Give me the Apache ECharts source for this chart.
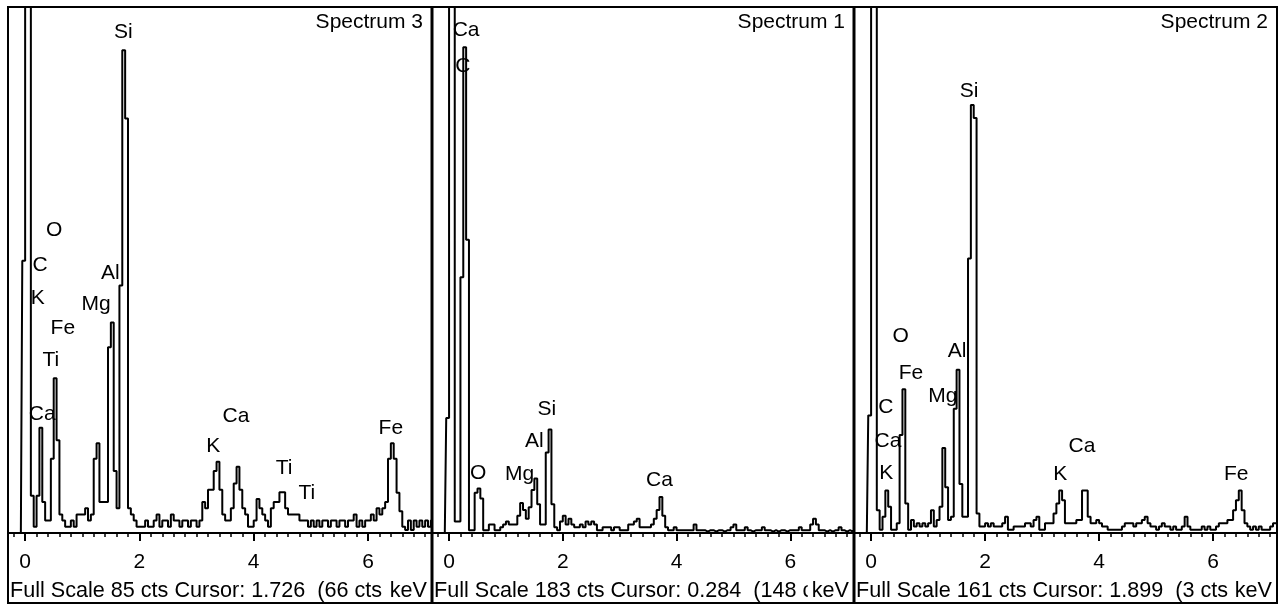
<!DOCTYPE html>
<html><head><meta charset="utf-8">
<script src="https://cdn.jsdelivr.net/npm/echarts@6/dist/echarts.min.js"></script>
<style>html,body{margin:0;padding:0;background:#fff}#chart{width:1288px;height:606px}</style>
</head><body><div id="chart"></div>
<script>
// ---- data ----
const binStartKeV = -0.30;   // left edge of first channel bin
const binWidthKeV = 0.05;    // channel bin width
const xMinKeV = -0.30, xMaxKeV = 7.12;

const panelTitles = ['Spectrum 3', 'Spectrum 1', 'Spectrum 2'];
const fullScaleCts = [85, 183, 161];
const cursorKeV = ['1.726', '0.284', '1.899'];
const cursorCts = ['(66 cts', '(148 cts', '(3 cts'];

// counts per 0.05 keV bin, from -0.30 keV
const spectrum3Counts = [
  0, 0, 0, 0, 0, 44,
  200, 200, 6, 1, 6, 17, 5, 2, 2, 12, 25, 15, 3, 2, 1, 1, 2, 1, 3, 3,
  3, 4, 2, 3, 12, 14.5, 5, 5, 5, 30, 34, 10, 4, 40, 78, 67, 4, 3, 2, 1,
  1, 1, 2, 1, 1, 2, 3, 1, 2, 2, 1, 3, 2, 2, 1, 2, 2, 1, 2, 2,
  1, 2, 5, 4, 7, 7, 10, 11.5, 7, 3, 2, 2, 4, 8, 10.7, 7, 4, 3, 1, 1,
  2, 5.5, 4, 3, 2, 1, 4, 5, 5, 6.6, 6.6, 4, 3, 3, 3, 3, 2, 2, 2, 1,
  2, 1, 2, 1, 2, 2, 1, 2, 2, 1, 2, 2, 1, 2, 2, 3, 1, 2, 1, 2,
  2, 3, 2, 4, 3, 4, 5, 12, 14.5, 12, 6.5, 3.5, 1, 0.5, 2, 0.5, 2, 1, 2, 1,
  2, 1, 2
];
const spectrum1Counts = [
  0, 0, 0, 0, 0, 40,
  400, 400, 4, 4, 89, 169, 102, 1, 1, 14, 15.5, 12, 1, 1, 3, 3, 1, 1, 2, 3,
  4, 3, 3, 3, 6, 10.4, 8, 5, 9, 15, 19, 10, 3, 3, 28, 36, 10, 2, 1, 4,
  6, 3, 5, 3, 2, 2, 3, 2, 4, 3, 4, 3, 1, 1, 2, 2, 2, 1, 2, 2,
  1, 1, 1, 3, 3, 4, 5, 2, 2, 2, 2, 3, 5, 8, 12.5, 6, 2, 1, 1, 2,
  1, 1, 1, 1, 1, 1, 3, 1, 1, 1, 0.5, 1, 1, 0.5, 1, 1, 0.5, 1, 1, 2,
  3, 1, 1, 1, 2, 1, 0.5, 1, 1, 1, 2, 1, 1, 0.5, 1, 0.5, 1, 1, 0.5, 1,
  1, 1, 1, 2, 1, 1, 1, 3, 5, 3, 1, 1, 0.5, 1, 0.5, 1, 1, 2, 1, 0.5,
  1, 0.5, 1
];
const spectrum2Counts = [
  0, 0, 0, 0, 0, 36,
  300, 300, 7, 1, 5, 13, 8, 1, 1, 3, 30, 44, 9, 1, 4, 2, 3, 2, 3, 2,
  3, 7, 2, 4, 8, 26, 14, 4, 5, 38, 50, 15, 5, 5, 84, 131, 127, 6, 2, 2,
  3, 2, 3, 2, 2, 2, 3, 5, 1, 1, 2, 2, 2, 2, 3, 3, 2, 4, 5, 1,
  1, 3, 3, 3, 6, 9, 13, 10, 3, 3, 3, 3, 4, 4, 13, 13, 5, 3, 3, 4,
  3, 2, 2, 1, 1, 1, 1, 1, 2, 3, 3, 3, 2, 3, 3, 4, 5, 3, 2, 2,
  1, 2, 3, 2, 2, 1, 2, 1, 1, 2, 5, 2, 1, 1, 1, 1, 2, 1, 2, 1,
  1, 2, 3, 3, 3, 4, 4, 7, 10, 13, 7, 3, 2, 1, 2, 1, 2, 1, 1, 1,
  2, 3, 3
];

// element labels: [element, keV, cts]
const spectrum3Labels = [
  ['Si', 1.72, 81], ['O', 0.51, 49], ['C', 0.26, 43.3], ['K', 0.22, 38],
  ['Al', 1.49, 42], ['Mg', 1.24, 37], ['Fe', 0.66, 33.1], ['Ti', 0.45, 27.9],
  ['Ca', 0.30, 19.2], ['Ca', 3.69, 18.9], ['K', 3.29, 14.1], ['Ti', 4.53, 10.5],
  ['Ti', 4.93, 6.5], ['Fe', 6.40, 17.0]
];
const spectrum1Labels = [
  ['Ca', 0.30, 175], ['C', 0.24, 162.5], ['O', 0.51, 20.8], ['Mg', 1.24, 20.5],
  ['Al', 1.50, 31.8], ['Si', 1.72, 43.1], ['Ca', 3.70, 18.2]
];
const spectrum2Labels = [
  ['Si', 1.72, 135.1], ['O', 0.52, 60.1], ['Al', 1.51, 55.5], ['Fe', 0.70, 48.9],
  ['Mg', 1.26, 41.8], ['C', 0.26, 38.4], ['Ca', 0.295, 28.2], ['K', 0.267, 18.3],
  ['Ca', 3.70, 26.7], ['K', 3.32, 18.1], ['Fe', 6.405, 18.1]
];

const panelCounts = [spectrum3Counts, spectrum1Counts, spectrum2Counts];
const panelLabels = [spectrum3Labels, spectrum1Labels, spectrum2Labels];

// ---- layout ----
const FONT = '"Liberation Sans", Arial, sans-serif';
const FS = 21;
const panelEdges = [8, 432, 854, 1277];
const plotTop = 7, plotBottom = 533, frameBottom = 603;

const grids = [], xAxes = [], yAxes = [], series = [], graphics = [];

for (let i = 0; i < 3; i++) {
  const L = panelEdges[i], R = panelEdges[i + 1];
  grids.push({ left: L, top: plotTop, width: R - L, height: plotBottom - plotTop, containLabel: false, outerBoundsMode: 'none' });
  xAxes.push({
    gridIndex: i, type: 'value', min: xMinKeV, max: xMaxKeV, splitNumber: 4,
    axisLine: { show: true, onZero: false, lineStyle: { color: '#000', width: 2 } },
    axisTick: { show: true, length: 8, lineStyle: { color: '#000', width: 2 } },
    minorTick: { show: true, splitNumber: 10, length: 4, lineStyle: { color: '#000', width: 1.5 } },
    axisLabel: { color: '#000', fontSize: FS, fontFamily: FONT, margin: 19, showMinLabel: false, showMaxLabel: false },
    splitLine: { show: false }, minorSplitLine: { show: false }
  });
  yAxes.push({ gridIndex: i, type: 'value', min: 0, max: fullScaleCts[i], show: false, splitLine: { show: false } });

  series.push({
    type: 'scatter', xAxisIndex: i, yAxisIndex: i, silent: true, z: 1,
    symbolSize: 1, itemStyle: { color: 'rgba(0,0,0,0)', opacity: 1 },
    label: { show: true, position: 'inside', formatter: '{b}', color: '#000', opacity: 1,
      textBorderWidth: 0, fontSize: FS, fontFamily: FONT },
    emphasis: { disabled: true },
    data: panelLabels[i].map(l => ({ name: l[0], value: [l[1], l[2]] }))
  });
  series.push({
    type: 'line', xAxisIndex: i, yAxisIndex: i, step: 'middle', silent: true, z: 3,
    showSymbol: false, symbol: 'none', clip: true,
    lineStyle: { color: '#000', width: 2 },
    data: panelCounts[i].map((c, j) => [binStartKeV + (j + 0.5) * binWidthKeV, c])
  });

  graphics.push({
    type: 'text', z: 10,
    style: { text: panelTitles[i], x: R - 9, y: 22, align: 'right', verticalAlign: 'middle', fill: '#000', font: FS + 'px ' + FONT }
  });
  graphics.push({
    type: 'text', z: 10,
    style: { text: 'Full Scale ' + fullScaleCts[i] + ' cts Cursor: ' + cursorKeV[i] + '  ' + cursorCts[i],
      x: L + 2, y: 591, align: 'left', verticalAlign: 'middle', fill: '#000', font: '21.6px ' + FONT }
  });
  graphics.push({
    type: 'text', z: 11,
    style: { text: 'keV', x: R - 3, y: 591, align: 'right', verticalAlign: 'middle', fill: '#000',
      backgroundColor: '#fff', padding: [1, 2, 1, 4], font: '21.6px ' + FONT }
  });
}

graphics.push({ type: 'rect', z: 20, shape: { x: 8, y: 7, width: 1269, height: frameBottom - 7 },
  style: { fill: 'none', stroke: '#000', lineWidth: 2 } });
[432, 854].forEach(x => graphics.push({ type: 'line', z: 20, shape: { x1: x, y1: 7, x2: x, y2: frameBottom },
  style: { stroke: '#000', lineWidth: 3 } }));

const chart = echarts.init(document.getElementById('chart'), null, { renderer: 'canvas' });
chart.setOption({
  animation: false,
  backgroundColor: '#fff',
  grid: grids, xAxis: xAxes, yAxis: yAxes, series: series,
  graphic: { elements: graphics }
});
</script></body></html>
